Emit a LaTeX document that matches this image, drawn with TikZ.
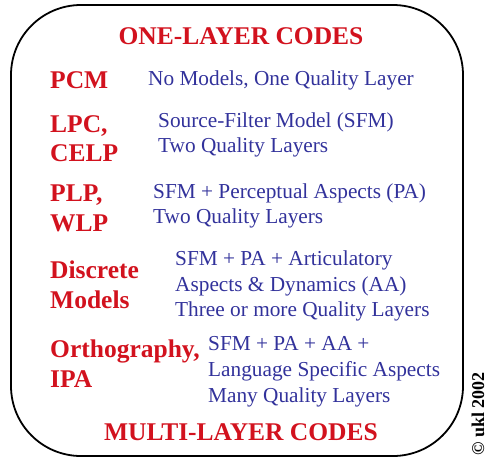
\documentclass[tikz,border=0pt]{standalone}
\usepackage{fontspec}
\setmainfont{Liberation Serif}
\definecolor{hdred}{RGB}{210,18,30}
\definecolor{txblue}{RGB}{50,50,155}
\begin{document}
\begin{tikzpicture}[x=1pt,y=-1pt,
  lbl/.style={anchor=base west,inner sep=0pt,text=hdred,font=\fontsize{25.5}{28}\selectfont\bfseries},
  hdr/.style={anchor=base,inner sep=0pt,text=hdred,font=\fontsize{25.5}{28}\selectfont\bfseries},
  desc/.style={anchor=base west,inner sep=0pt,text=txblue,font=\fontsize{21.3}{24}\selectfont},
  frame/.style={draw=black,line width=1.8pt,rounded corners=70pt}]
\useasboundingbox (0,0) rectangle (487,461);
\draw[frame] (11,5) rectangle (463,456);
\node[hdr] (top) at (241,44) {ONE-LAYER CODES};
\node[hdr] (bot) at (241,440) {MULTI-LAYER CODES};
% PCM
\node[lbl] (pcm) at (50,88) {PCM};
\node[desc] (pcmd) at (148,85) {No Models, One Quality Layer};
% LPC
\node[lbl] (lpc1) at (50,132) {LPC,};
\node[lbl] (lpc2) at (50,161) {CELP};
\node[desc] (lpcd1) at (158,127) {Source-Filter Model (SFM)};
\node[desc] (lpcd2) at (158,152) {Two Quality Layers};
% PLP
\node[lbl] (plp1) at (50,201) {PLP,};
\node[lbl] (plp2) at (50,231) {WLP};
\node[desc] (plpd1) at (153,198) {SFM + Perceptual Aspects (PA)};
\node[desc] (plpd2) at (153,223) {Two Quality Layers};
% Discrete
\node[lbl] (dm1) at (50,278) {Discrete};
\node[lbl] (dm2) at (50,308) {Models};
\node[desc] (dmd1) at (175,265) {SFM + PA + Articulatory};
\node[desc] (dmd2) at (175,291) {Aspects \& Dynamics (AA)};
\node[desc] (dmd3) at (175,316) {Three or more Quality Layers};
% Orthography
\node[lbl] (or1) at (50,357) {Orthography,};
\node[lbl] (or2) at (50,387) {IPA};
\node[desc] (ord1) at (208,350) {SFM + PA + AA +};
\node[desc] (ord2) at (208,376) {Language Specific Aspects};
\node[desc] (ord3) at (208,402) {Many Quality Layers};
% copyright
\node[anchor=base west,inner sep=0pt,rotate=90,font=\fontsize{18}{20}\selectfont\bfseries] (copy) at (484,456) {© ukl 2002};
\end{tikzpicture}
\end{document}
